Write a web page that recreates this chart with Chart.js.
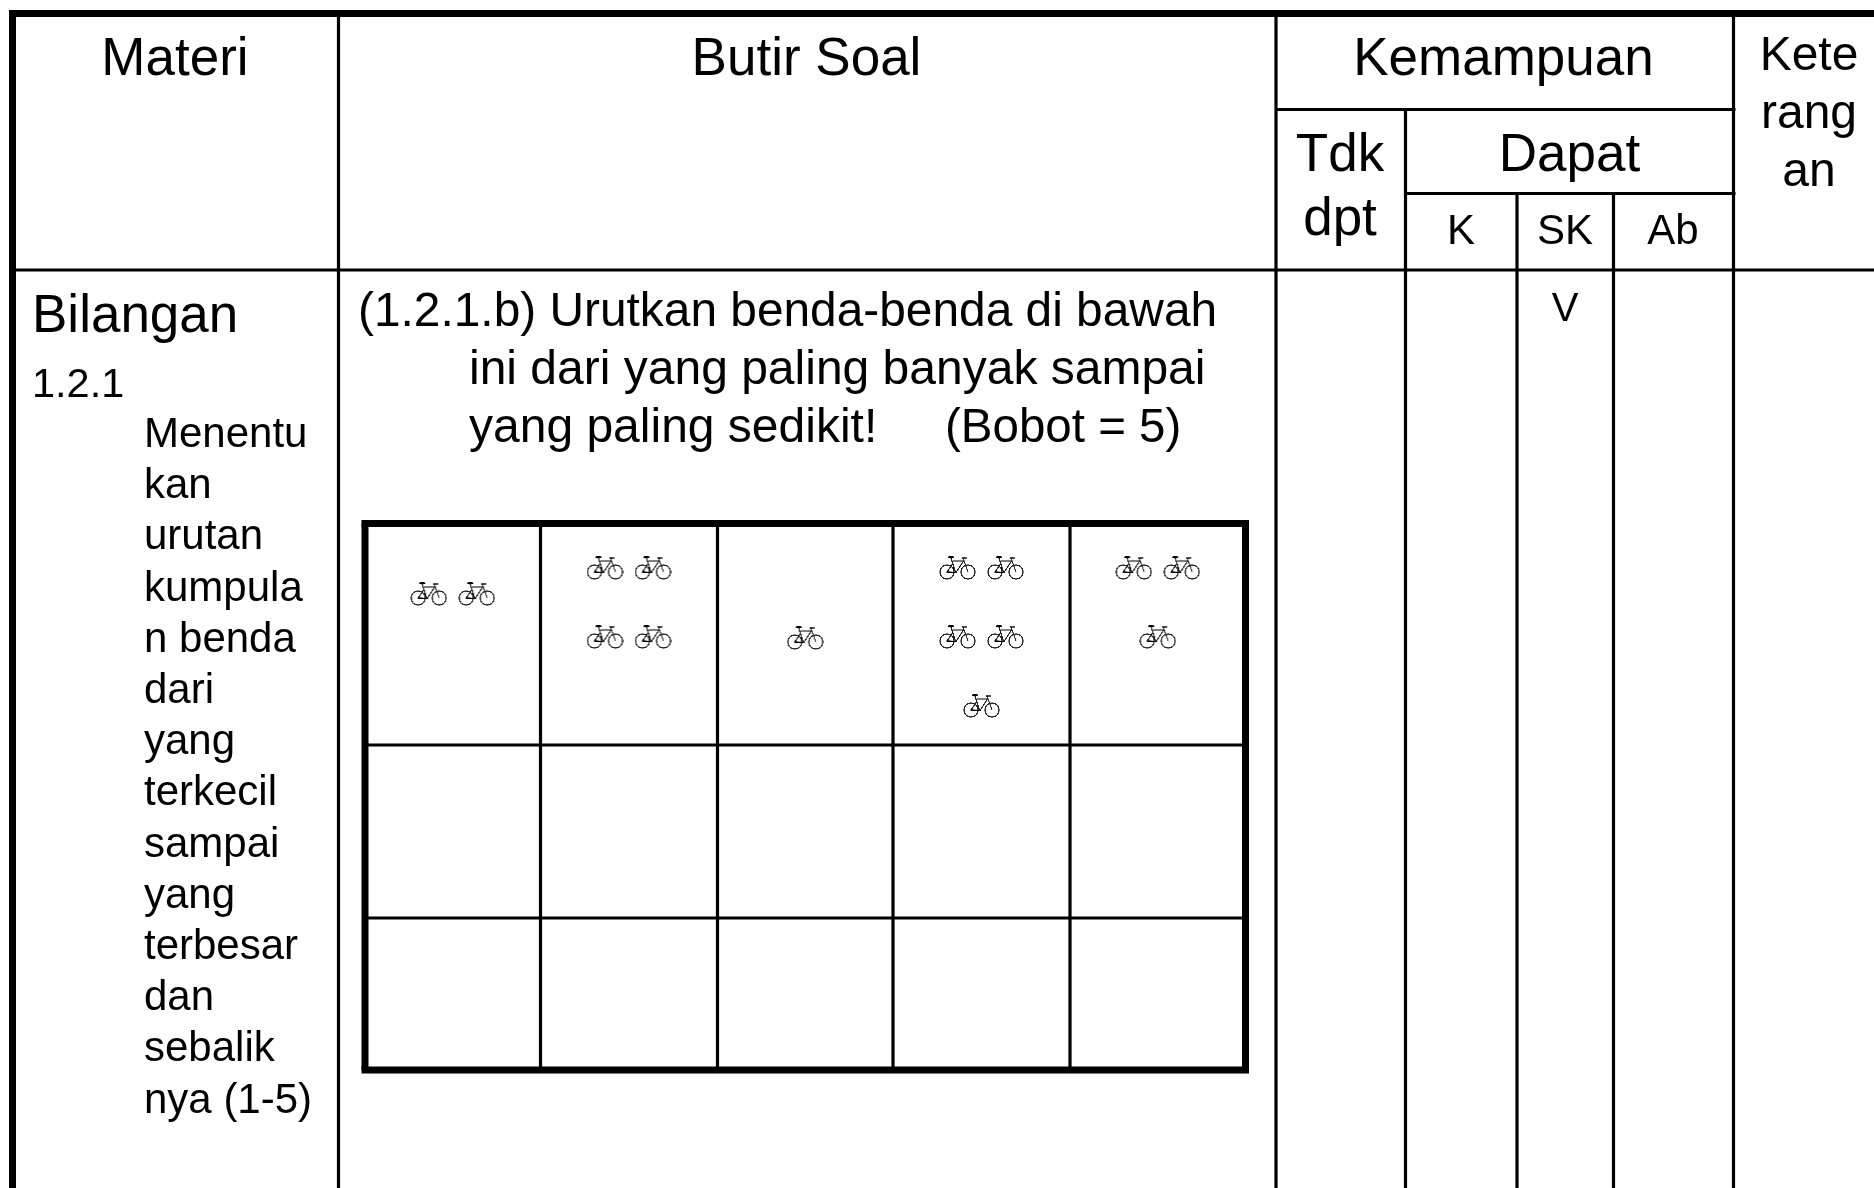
<!DOCTYPE html>
<html>
<head>
<meta charset="utf-8">
<title>Butir Soal</title>
<script src="https://cdn.jsdelivr.net/npm/chart.js@4/dist/chart.umd.min.js"></script>
<style>
  html, body { margin: 0; padding: 0; background: #fff; }
  #wrap { width: 1874px; height: 1188px; overflow: hidden; }
</style>
</head>
<body>
<div id="wrap"><canvas id="sheet" width="1874" height="1188"></canvas></div>
<script>
// Table content
const headMateri = ['Materi'];
const headSoal = ['Butir Soal'];
const headKemampuan = ['Kemampuan'];
const headTdk = ['Tdk', 'dpt'];
const headDapat = ['Dapat'];
const headLevels = ['K', 'SK', 'Ab'];
const headKet = ['Kete', 'rang', 'an'];
const materiTitle = ['Bilangan'];
const materiCode = ['1.2.1'];
const materiText = ['Menentu', 'kan', 'urutan', 'kumpula', 'n benda', 'dari', 'yang', 'terkecil',
  'sampai', 'yang', 'terbesar', 'dan', 'sebalik', 'nya (1-5)'];
const soalFirst = ['(1.2.1.b) Urutkan benda-benda di bawah'];
const soalRest = ['ini dari yang paling banyak sampai', 'yang paling sedikit!'];
const soalBobot = ['(Bobot = 5)'];
const checkMark = ['V'];

// Bicycles in each cell of the question's picture row
const bikeCounts = [2, 4, 1, 5, 3];
const bikeStartY = [594, 568, 638, 568, 568];

// Table rules, on the sheet's axes
const outerCols = [338.5, 1276, 1733.5];
const kemampuanCols = [1405.5];
const levelCols = [1517, 1613.5];
const headRows = [109.5, 193.5, 270];
const innerCols = [365, 540.5, 717.5, 893, 1070, 1245.5];
const innerRows = [523.5, 745, 918, 1070];

const BLACK = '#000';
const THIN = 3.2;
const THICK = 7;

function rule(x0, y0, x1, y1, width) {
    return {
        type: 'scatter',
        showLine: true,
        data: [{ x: x0, y: y0 }, { x: x1, y: y1 }],
        borderColor: BLACK,
        borderWidth: width,
        borderCapStyle: 'butt',
        pointRadius: 0,
        pointHoverRadius: 0,
        order: 2
    };
}

const rules = [
    rule(9, 13.4, 1874, 13.4, THICK),
    rule(12.5, 10, 12.5, 1188, THICK),
    rule(outerCols[0], 13, outerCols[0], 1188, THIN),
    rule(outerCols[1], 13, outerCols[1], 1188, THIN),
    rule(outerCols[2], 13, outerCols[2], 1188, THIN),
    rule(outerCols[1], headRows[0], outerCols[2] + 2, headRows[0], THIN),
    rule(kemampuanCols[0], headRows[0], kemampuanCols[0], 1188, THIN),
    rule(kemampuanCols[0], headRows[1], outerCols[2] + 2, headRows[1], THIN),
    rule(levelCols[0], headRows[1], levelCols[0], 1188, THIN),
    rule(levelCols[1], headRows[1], levelCols[1], 1188, THIN),
    rule(12, headRows[2], 1874, headRows[2], THIN)
];

// Inner grid of the question
innerCols.slice(1, -1).forEach(x => rules.push(rule(x, innerRows[0], x, innerRows[3], THIN)));
innerRows.slice(1, -1).forEach(y => rules.push(rule(innerCols[0], y, innerCols[5], y, THIN)));
rules.push(rule(innerCols[0] - 3.5, innerRows[0], innerCols[5] + 3.5, innerRows[0], THICK));
rules.push(rule(innerCols[0] - 3.5, innerRows[3], innerCols[5] + 3.5, innerRows[3], THICK));
rules.push(rule(innerCols[0], innerRows[0], innerCols[0], innerRows[3], THICK));
rules.push(rule(innerCols[5], innerRows[0], innerCols[5], innerRows[3], THICK));

// Two to a row, a lone bicycle centred
function bikePoints() {
    const pts = [];
    bikeCounts.forEach((count, c) => {
        const mid = (innerCols[c] + innerCols[c + 1]) / 2;
        for (let i = 0; i < count; i++) {
            const row = Math.floor(i / 2);
            const alone = i === count - 1 && i % 2 === 0;
            const x = alone ? mid : mid + (i % 2 === 0 ? -24 : 24);
            pts.push({ x: x, y: bikeStartY[c] + row * 69 });
        }
    });
    return pts;
}

// Chart.js draws a canvas point style at the canvas's own size, so shrink it at the end
function makeBikeIcon() {
    const k = 3;
    const big = document.createElement('canvas');
    big.width = 37 * k;
    big.height = 24 * k;
    const g = big.getContext('2d');
    g.scale(k, k);
    g.lineCap = 'round';

    function seg(x0, y0, x1, y1, color, w) {
        g.strokeStyle = color;
        g.lineWidth = w;
        g.beginPath();
        g.moveTo(x0, y0);
        g.lineTo(x1, y1);
        g.stroke();
    }

    g.strokeStyle = '#222';
    g.lineWidth = 1.15;
    g.beginPath();
    g.arc(8, 16, 7, 0, Math.PI * 2);
    g.stroke();
    g.beginPath();
    g.arc(29, 16, 7, 0, Math.PI * 2);
    g.stroke();

    seg(14, 5, 24.5, 5, '#000', 1);
    seg(12, 2, 16.5, 16.5, '#222', 1.3);
    seg(8, 16, 13.5, 8, '#222', 1.2);
    seg(8, 16, 17, 16.5, '#000', 1.3);
    seg(24.5, 5, 17, 16.5, '#222', 1.1);
    seg(24, 2, 29, 16, '#333', 1.1);
    seg(10, 1.2, 14, 1.2, '#000', 1.7);
    seg(23, 2, 27.5, 2, '#111', 1.1);

    const icon = document.createElement('canvas');
    icon.width = 37;
    icon.height = 24;
    icon.getContext('2d').drawImage(big, 0, 0, 37, 24);
    return icon;
}

function textBlock(lines, x, y, step, size, align) {
    return { lines, x, y, step, size, align: align || 'center' };
}

const textBlocks = [
    textBlock(headMateri, 175, 75, 0, 53),
    textBlock(headSoal, 806.5, 75, 0, 53),
    textBlock(headKemampuan, 1503.5, 75, 0, 53),
    textBlock(headTdk, 1340, 171, 64, 53),
    textBlock(headDapat, 1569.5, 171, 0, 53),
    textBlock([headLevels[0]], 1461, 244, 0, 42),
    textBlock([headLevels[1]], 1565, 244, 0, 42),
    textBlock([headLevels[2]], 1673, 244, 0, 42),
    textBlock(headKet, 1809, 70, 58, 48),
    textBlock(materiTitle, 32, 332, 0, 53, 'left'),
    textBlock(materiCode, 32, 396.5, 0, 41.5, 'left'),
    textBlock(materiText, 144, 447, 51.2, 42, 'left'),
    textBlock(soalFirst, 358, 326, 0, 47.85, 'left'),
    textBlock(soalRest, 469, 384, 58, 48, 'left'),
    textBlock(soalBobot, 945, 442, 0, 47.5, 'left'),
    textBlock(checkMark, 1565, 321, 0, 40)
];

const sheetText = {
    id: 'sheetText',
    afterDatasetsDraw(chart) {
        const c = chart.ctx;
        const xs = chart.scales.x;
        const ys = chart.scales.y;
        c.save();
        c.fillStyle = BLACK;
        c.textBaseline = 'alphabetic';
        textBlocks.forEach(b => {
            c.font = b.size + 'px "Liberation Sans", Arial, sans-serif';
            c.textAlign = b.align;
            b.lines.forEach((line, i) => {
                c.fillText(line, xs.getPixelForValue(b.x), ys.getPixelForValue(b.y + i * b.step));
            });
        });
        c.restore();
    }
};

new Chart(document.getElementById('sheet').getContext('2d'), {
    type: 'scatter',
    data: {
        datasets: rules.concat([{
            label: 'Sepeda',
            data: bikePoints(),
            pointStyle: makeBikeIcon(),
            pointRadius: 12,
            showLine: false,
            order: 1
        }])
    },
    options: {
        responsive: false,
        animation: false,
        events: [],
        layout: { padding: 0, autoPadding: false },
        scales: {
            x: { type: 'linear', min: 0, max: 1874, display: false },
            y: { type: 'linear', min: 0, max: 1188, reverse: true, display: false }
        },
        plugins: {
            legend: { display: false },
            tooltip: { enabled: false }
        }
    },
    plugins: [sheetText]
});
</script>
</body>
</html>
